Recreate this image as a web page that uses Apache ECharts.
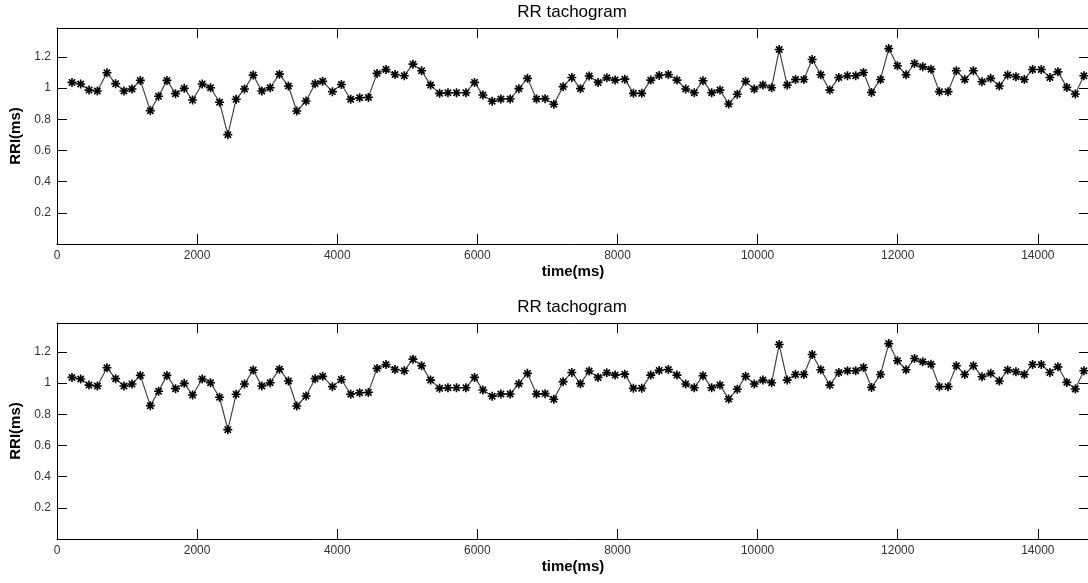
<!DOCTYPE html>
<html>
<head>
<meta charset="utf-8">
<title>RR tachogram</title>
<script src="https://cdn.jsdelivr.net/npm/echarts@6/dist/echarts.min.js"></script>
<style>
  html, body { margin: 0; padding: 0; background: #fff; overflow: hidden; }
  #chart { width: 1088px; height: 583px; }
</style>
</head>
<body>
<div id="chart"></div>
<script>
// Beat times (ms) and RR intervals for the tachogram
const times = [
  214, 338, 457, 576, 713, 837, 956, 1070, 1189, 1332,
  1450, 1569, 1692, 1816, 1935, 2073, 2191, 2320, 2438, 2557,
  2676, 2800, 2923, 3042, 3175, 3303, 3422, 3555, 3684, 3792,
  3931, 4059, 4192, 4320, 4444, 4568, 4696, 4825, 4957, 5081,
  5204, 5332, 5461, 5580, 5703, 5837, 5960, 6079, 6212, 6336,
  6468, 6592, 6715, 6844, 6967, 7091, 7224, 7348, 7471, 7595,
  7723, 7847, 7966, 8104, 8227, 8346, 8475, 8595, 8726, 8849,
  8973, 9096, 9220, 9344, 9463, 9587, 9710, 9829, 9952, 10076,
  10200, 10308, 10422, 10541, 10660, 10779, 10902, 11031, 11159, 11283,
  11400, 11511, 11626, 11754, 11872, 11996, 12119, 12239, 12357, 12475,
  12595, 12718, 12837, 12956, 13080, 13203, 13327, 13450, 13569, 13687,
  13807, 13925, 14049, 14172, 14286, 14414, 14534, 14657
];
const rri = [
  1.036, 1.026, 0.987, 0.981, 1.098, 1.028, 0.981, 0.994, 1.049, 0.855,
  0.947, 1.049, 0.964, 0.998, 0.923, 1.026, 1.002, 0.909, 0.701, 0.928,
  0.994, 1.083, 0.981, 1.002, 1.089, 1.013, 0.853, 0.917, 1.028, 1.043,
  0.977, 1.023, 0.928, 0.938, 0.940, 1.094, 1.119, 1.087, 1.079, 1.153,
  1.111, 1.019, 0.966, 0.970, 0.970, 0.970, 1.036, 0.955, 0.915, 0.930,
  0.930, 0.996, 1.062, 0.930, 0.932, 0.896, 1.009, 1.068, 0.996, 1.077,
  1.036, 1.066, 1.051, 1.057, 0.966, 0.966, 1.051, 1.081, 1.087, 1.051,
  0.994, 0.970, 1.047, 0.970, 0.987, 0.898, 0.960, 1.043, 0.994, 1.019,
  1.002, 1.247, 1.019, 1.055, 1.055, 1.183, 1.085, 0.987, 1.068, 1.079,
  1.079, 1.100, 0.972, 1.055, 1.253, 1.143, 1.085, 1.157, 1.136, 1.121,
  0.977, 0.977, 1.111, 1.055, 1.111, 1.040, 1.062, 1.013, 1.083, 1.072,
  1.055, 1.119, 1.119, 1.068, 1.104, 1.004, 0.962, 1.079
];

// Axis ranges and tick spacing
const xRange = [0, 14730];
const yRange = [0, 1.385];
const xTickStep = 2000;
const yTickStep = 0.2;

const titleText = 'RR tachogram';
const xName = 'time(ms)';
const yName = 'RRI(ms)';

const FONT = '"Liberation Sans", Arial, Helvetica, sans-serif';

// Asterisk marker: horizontal, vertical and two diagonal bars
const ASTERISK = 'path://M0 4.1 L10 4.1 L10 5.9 L0 5.9 Z ' +
  'M4.1 0 L5.9 0 L5.9 10 L4.1 10 Z ' +
  'M2.14 0.86 L9.14 7.86 L7.86 9.14 L0.86 2.14 Z ' +
  'M7.86 0.86 L9.14 2.14 L2.14 9.14 L0.86 7.86 Z';

const points = times.map((t, i) => [t, rri[i]]);

const panels = [
  { top: 28, titleTop: 4 },
  { top: 323, titleTop: 299 }
];
const plotHeight = 216;
const plotLeft = 57;
const plotWidth = 1032;

const tickStyle = { inside: true, length: 10, lineStyle: { color: '#000', width: 1 } };
const lineStyle = { show: true, onZero: false, lineStyle: { color: '#000', width: 1 } };

function xLabel(v) {
  return (v % xTickStep === 0) ? String(v) : '';
}
function yLabel(v) {
  const k = Math.round(v / yTickStep);
  if (k === 0 || Math.abs(v - k * yTickStep) > 1e-6) return '';
  return String(+(k * yTickStep).toFixed(1));
}

const grid = [], xAxis = [], yAxis = [], series = [], title = [];

panels.forEach((p, i) => {
  grid.push({
    left: plotLeft, width: plotWidth, top: p.top, height: plotHeight,
    containLabel: false, outerBoundsMode: 'none'
  });
  title.push({
    text: titleText,
    left: plotLeft + 515,
    top: p.titleTop,
    padding: 0,
    textAlign: 'center',
    textStyle: { fontFamily: FONT, fontSize: 17, fontWeight: 'normal', color: '#000' }
  });
  // bottom axis with labels
  xAxis.push({
    type: 'value', gridIndex: i, position: 'bottom',
    min: xRange[0], max: xRange[1], interval: xTickStep,
    axisLine: lineStyle, axisTick: tickStyle, splitLine: { show: false },
    axisLabel: { formatter: xLabel, margin: 6, color: '#333', fontFamily: FONT, fontSize: 12 },
    name: xName, nameLocation: 'middle', nameGap: 20,
    nameTextStyle: { fontFamily: FONT, fontSize: 15, fontWeight: 'bold', color: '#000' }
  });
  // top box edge with ticks
  xAxis.push({
    type: 'value', gridIndex: i, position: 'top',
    min: xRange[0], max: xRange[1], interval: xTickStep,
    axisLine: lineStyle, axisTick: tickStyle, splitLine: { show: false },
    axisLabel: { show: false }
  });
  // left axis with labels
  yAxis.push({
    type: 'value', gridIndex: i, position: 'left',
    min: yRange[0], max: yRange[1], interval: yTickStep,
    axisLine: lineStyle, axisTick: tickStyle, splitLine: { show: false },
    axisLabel: { formatter: yLabel, margin: 6, color: '#333', fontFamily: FONT, fontSize: 12 },
    name: yName, nameLocation: 'middle', nameGap: 26,
    nameTextStyle: { fontFamily: FONT, fontSize: 15, fontWeight: 'bold', color: '#000' }
  });
  // right box edge with ticks
  yAxis.push({
    type: 'value', gridIndex: i, position: 'right',
    min: yRange[0], max: yRange[1], interval: yTickStep,
    axisLine: lineStyle, axisTick: tickStyle, splitLine: { show: false },
    axisLabel: { show: false }
  });
  series.push({
    type: 'line',
    xAxisIndex: i * 2, yAxisIndex: i * 2,
    data: points,
    symbol: ASTERISK, symbolSize: 9, showSymbol: true,
    itemStyle: { color: '#000' },
    lineStyle: { color: '#444', width: 1.2 },
    silent: true
  });
});

const chart = echarts.init(document.getElementById('chart'), null, { renderer: 'canvas' });
chart.setOption({
  animation: false,
  backgroundColor: '#fff',
  title, grid, xAxis, yAxis, series
});
</script>
</body>
</html>
